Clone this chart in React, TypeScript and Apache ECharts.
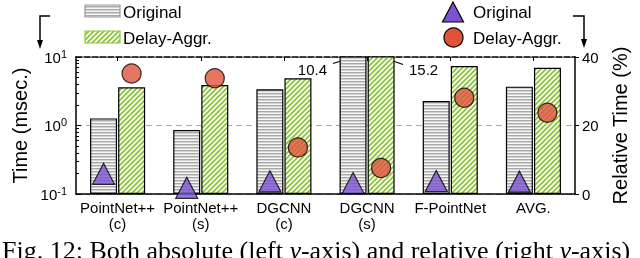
import React, { useEffect, useRef } from "react";
import * as echarts from "echarts";

const categories = ["PointNet++\n(c)", "PointNet++\n(s)", "DGCNN\n(c)", "DGCNN\n(s)", "F-PointNet", "AVG."];
const origTime = [1.27, 0.86, 3.38, 10.4, 2.28, 3.69];
const delayTime = [3.61, 3.9, 4.89, 15.2, 7.4, 6.98];
const origRel = [5.9, 1.8, 3.7, 3.2, 3.8, 3.6];
const delayRel = [35.2, 33.8, 13.6, 7.6, 28.1, 23.7];
const relTicks = [0, 20, 40];
const minorTickBase = [2, 3, 4, 5, 6, 7, 8, 9];

const FONT = '"Liberation Sans", Arial, Helvetica, sans-serif';
const SERIF = '"Liberation Serif", "Times New Roman", serif';
const GREEN = "#8dc63a";
const PURPLE = "#7b52d0";
const RED = "#e0533a";

function stripeCanvas() {
  const c = document.createElement("canvas");
  c.width = 4;
  c.height = 3;
  const ctx = c.getContext("2d")!;
  ctx.fillStyle = "#a8a8a8";
  ctx.fillRect(0, 0, 4, 1);
  ctx.fillStyle = "#d4d4d4";
  ctx.fillRect(0, 1, 4, 1);
  ctx.fillStyle = "#f6f6f6";
  ctx.fillRect(0, 2, 4, 1);
  return c;
}

function hatchCanvas() {
  const c = document.createElement("canvas");
  c.width = 5;
  c.height = 5;
  const ctx = c.getContext("2d")!;
  ctx.fillStyle = "#ffffff";
  ctx.fillRect(0, 0, 5, 5);
  ctx.strokeStyle = GREEN;
  ctx.lineWidth = 1.9;
  ctx.beginPath();
  ctx.moveTo(-1, 6);
  ctx.lineTo(6, -1);
  ctx.moveTo(-1, 1);
  ctx.lineTo(1, -1);
  ctx.moveTo(4, 6);
  ctx.lineTo(6, 4);
  ctx.stroke();
  return c;
}

export default function App() {
  const ref = useRef<HTMLDivElement>(null);
  useEffect(() => {
    if (!ref.current) return;
    const chart = echarts.init(ref.current, null, { renderer: "svg" });
    const stripe = { image: stripeCanvas(), repeat: "repeat", imageWidth: 4, imageHeight: 3 } as any;
    const hatch = { image: hatchCanvas(), repeat: "repeat", imageWidth: 5, imageHeight: 5 } as any;
    const supMap: Record<string, string> = { "0.1": "-1", "1": "0", "10": "1" };
    const minorVals: number[] = [];
    minorTickBase.forEach((k) => minorVals.push(Math.log10(k / 10)));
    minorTickBase.forEach((k) => minorVals.push(Math.log10(k)));

    const txt = (text: string, x: number, y: number, size = 17, align = "left") => ({
      type: "text",
      x,
      y,
      style: { text, fontSize: size, fontFamily: FONT, fill: "#000", align, verticalAlign: "middle" },
    });

    chart.setOption({
      animation: false,
      grid: { left: 76, right: 65, top: 57, bottom: 64 },
      xAxis: [
        {
          type: "category",
          data: categories,
          position: "bottom",
          axisLine: { onZero: false, lineStyle: { color: "#000", width: 1.5 } },
          axisTick: { show: false },
          axisLabel: { interval: 0, fontSize: 15, fontFamily: FONT, color: "#000", margin: 5, lineHeight: 16 },
        },
        {
          type: "category",
          data: categories,
          position: "top",
          axisLine: { onZero: false, lineStyle: { color: "#000", width: 1.5, type: [6, 2] } },
          axisTick: { show: true, inside: true, alignWithLabel: true, interval: 0, length: 4, lineStyle: { color: "#000" } },
          axisLabel: { show: false },
        },
      ],
      yAxis: [
        {
          type: "log",
          logBase: 10,
          min: 0.1,
          max: 10,
          startValue: 0.1,
          name: "Time (msec.)",
          nameLocation: "middle",
          nameGap: 39,
          nameTextStyle: { fontSize: 20, fontFamily: FONT, color: "#000" },
          axisLine: { show: true, onZero: false, lineStyle: { color: "#000", width: 1.5 } },
          axisTick: { show: true, inside: true, length: 5, lineStyle: { color: "#000" } },
          splitLine: { show: true, lineStyle: { color: "#aaa", type: [6, 4] } },
          axisLabel: {
            margin: 9,
            formatter: (v: number) => `{b|10}{s|${supMap[String(+v.toPrecision(3))] ?? ""}}`,
            rich: {
              b: { fontSize: 15, fontFamily: FONT, color: "#000", lineHeight: 18 },
              s: { fontSize: 11, fontFamily: FONT, color: "#000", verticalAlign: "top", lineHeight: 12 },
            },
          },
        },
        {
          type: "value",
          min: relTicks[0],
          max: relTicks[relTicks.length - 1],
          interval: relTicks[1] - relTicks[0],
          position: "right",
          name: "Relative Time (%)",
          nameLocation: "middle",
          nameGap: 28,
          nameRotate: 90,
          nameTextStyle: { fontSize: 20, fontFamily: FONT, color: "#000" },
          axisLine: { show: true, onZero: false, lineStyle: { color: "#000", width: 1.5 } },
          axisTick: { show: true, inside: false, length: 4, lineStyle: { color: "#000" } },
          splitLine: { show: false },
          axisLabel: { fontSize: 15, fontFamily: FONT, color: "#000", margin: 7 },
        },
        {
          type: "value",
          min: -1,
          max: 1,
          position: "left",
          axisLine: { show: false, onZero: false },
          axisLabel: { show: false },
          splitLine: { show: false },
          axisTick: { show: true, inside: true, length: 3, customValues: minorVals, lineStyle: { color: "#000" } },
        },
      ],
      series: [
        {
          name: "Original",
          type: "bar",
          yAxisIndex: 0,
          data: origTime,
          barWidth: 27,
          barGap: "4%",
          clip: true,
          itemStyle: { color: stripe, borderColor: "#000", borderWidth: 1.2 },
        },
        {
          name: "Delay-Aggr.",
          type: "bar",
          yAxisIndex: 0,
          data: delayTime,
          barWidth: 27,
          clip: true,
          itemStyle: { color: hatch, borderColor: "#000", borderWidth: 1.2 },
        },
        {
          name: "Original (rel.)",
          type: "scatter",
          yAxisIndex: 1,
          data: origRel,
          symbol: "triangle",
          symbolSize: [22, 21],
          symbolOffset: [-14, 0],
          z: 5,
          itemStyle: { color: PURPLE, borderColor: "#000", borderWidth: 1.2 },
        },
        {
          name: "Delay-Aggr. (rel.)",
          type: "scatter",
          yAxisIndex: 1,
          data: delayRel,
          symbol: "circle",
          symbolSize: 19,
          symbolOffset: [14, 0],
          z: 5,
          itemStyle: { color: RED, borderColor: "#000", borderWidth: 1.2 },
        },
      ],
      graphic: [
        // left legend
        { type: "rect", shape: { x: 85, y: 5, width: 35, height: 12 }, style: { fill: stripe, stroke: "#999", lineWidth: 1.2 } },
        txt("Original", 123, 12),
        { type: "rect", shape: { x: 85, y: 31, width: 35, height: 12 }, style: { fill: hatch, stroke: GREEN, lineWidth: 1.2 } },
        txt("Delay-Aggr.", 123, 38),
        // right legend
        { type: "polygon", shape: { points: [[442.5, 22], [463.5, 22], [453, 2]] }, style: { fill: PURPLE, stroke: "#000", lineWidth: 1.2 } },
        txt("Original", 473, 12),
        { type: "circle", shape: { cx: 453.5, cy: 37.5, r: 9.5 }, style: { fill: RED, stroke: "#000", lineWidth: 1.2 } },
        txt("Delay-Aggr.", 473, 38),
        // corner arrows
        { type: "polyline", shape: { points: [[50, 16], [40, 16], [40, 42]] }, style: { stroke: "#000", lineWidth: 1.5, fill: "none" } },
        { type: "polygon", shape: { points: [[37, 40], [43, 40], [40, 49]] }, style: { fill: "#000" } },
        { type: "polyline", shape: { points: [[573, 16], [584, 16], [584, 41]] }, style: { stroke: "#000", lineWidth: 1.5, fill: "none" } },
        { type: "polygon", shape: { points: [[581, 39], [587, 39], [584, 48]] }, style: { fill: "#000" } },
        // annotations for clipped bars
        txt(origTime[3].toFixed(1), 327, 69, 15, "right"),
        { type: "line", shape: { x1: 333, y1: 63.5, x2: 349, y2: 58.5 }, style: { stroke: "#000", lineWidth: 1.2 } },
        { type: "polyline", shape: { points: [[343, 57], [349.5, 58.3], [345, 62.5]] }, style: { stroke: "#000", lineWidth: 1.2, fill: "none" } },
        txt(delayTime[3].toFixed(1), 409, 69, 15, "left"),
        { type: "line", shape: { x1: 403, y1: 64.5, x2: 386, y2: 58.5 }, style: { stroke: "#000", lineWidth: 1.2 } },
        { type: "polyline", shape: { points: [[390.5, 63.5], [385.8, 58.4], [392.5, 57.5]] }, style: { stroke: "#000", lineWidth: 1.2, fill: "none" } },
        // caption (cut off at the bottom edge, as in the reference)
        {
          type: "text",
          x: 2,
          y: 237,
          style: {
            text: "Fig. 12: Both absolute (left {i|y}-axis) and relative (right {i|y}-axis)",
            fontSize: 26,
            fontFamily: SERIF,
            fill: "#000",
            verticalAlign: "top",
            rich: { i: { fontSize: 26, fontFamily: SERIF, fontStyle: "italic", fill: "#000" } },
          },
        },
      ],
    } as any);
    return () => chart.dispose();
  }, []);
  return <div ref={ref} style={{ position: "fixed", left: 0, top: 0, width: 640, height: 258 }} />;
}
